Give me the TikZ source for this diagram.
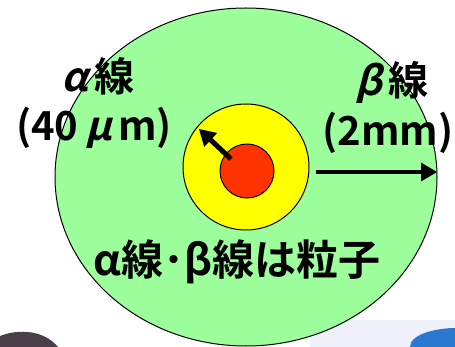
\documentclass[tikz,border=0pt]{standalone}
\usepackage{fontspec}
\setmainfont{Noto Sans CJK JP}
\newfontfamily\jp{Noto Sans CJK JP Bold}
\newfontfamily\jpslant[FakeSlant=0.25]{Noto Sans CJK JP Bold}
\usetikzlibrary{arrows.meta}
\definecolor{lgreen}{HTML}{9CFF9C}
\definecolor{lyellow}{HTML}{FFFF00}
\definecolor{lred}{HTML}{FF3300}
\definecolor{lav}{HTML}{EEF0FA}
\definecolor{blueobj}{HTML}{2A78CF}
\definecolor{darkobj}{HTML}{4A3F48}
\tikzset{
  disk/.style={draw=black, line width=1pt},
  shaft/.style={draw=black, line width=5pt, -{Triangle[length=16pt,width=19pt,line width=0pt]}},
  lab/.style={font=\jp\fontsize{40}{42}\selectfont, inner sep=0pt, anchor=base}
}
\begin{document}
\begin{tikzpicture}[x=1pt,y=-1pt]
\useasboundingbox (0,0) rectangle (455,347);
% background scraps at bottom
\fill[lav] (310,320) rectangle (455,347);
\fill[blueobj] (410,347) .. controls (410,333) and (440,328) .. (455,328) -- (455,347) -- cycle;
\fill[darkobj] (0,347) -- (0,336) .. controls (20,328) and (45,331) .. (58,347) -- cycle;
% circles
\draw[disk, fill=lgreen] (246,177) ellipse [x radius=191, y radius=169];
\draw[disk, fill=lyellow] (246,167) circle [radius=63];
\node[disk, fill=lred, circle, minimum size=54pt, inner sep=0pt] (core) at (247,171) {};
\coordinate (alphastart) at (231,159);
\coordinate (alphaend) at (199,129);
\coordinate (betastart) at (316,172);
\coordinate (betaend) at (437,172);
\draw[shaft] (alphastart) -- (alphaend);
\draw[shaft, line width=4.5pt] (betastart) -- (betaend);
% labels
\node[lab] (alab) at (98,92) {{\jpslant α}\,線};
\node[lab] (amu) at (94,141) {(40\,{\jpslant μ}\,m)};
\node[lab] (blab) at (392,96) {{\jpslant β}\,線};
\node[lab] (bmm) at (388,146) {(2mm)};
\node[lab, font=\jp\fontsize{42}{44}\selectfont] (note) at (237,276) {α線･β線は粒子};
\end{tikzpicture}
\end{document}
